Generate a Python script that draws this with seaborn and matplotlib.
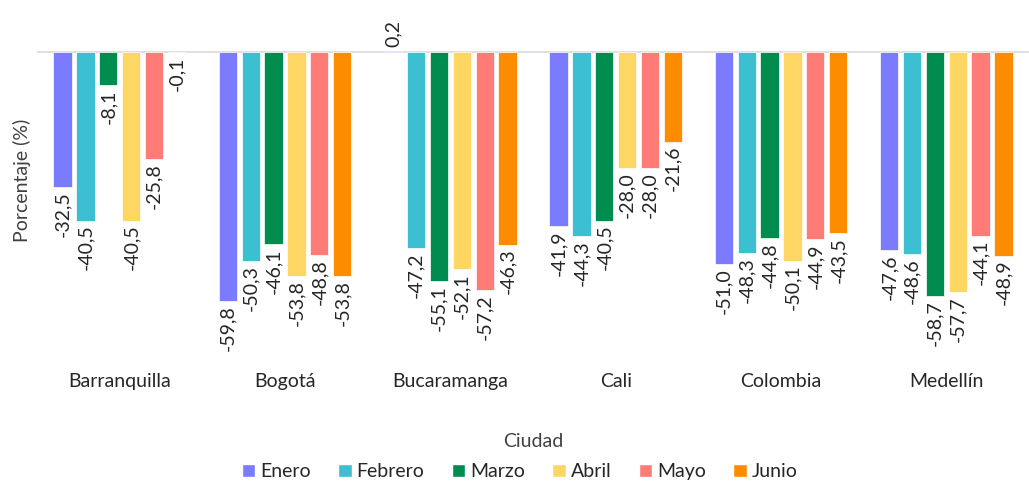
import pandas as pd
import matplotlib.pyplot as plt
import seaborn as sns
from matplotlib.patches import Patch

ciudades = ['Barranquilla', 'Bogotá', 'Bucaramanga', 'Cali', 'Colombia', 'Medellín']
meses = ['Enero', 'Febrero', 'Marzo', 'Abril', 'Mayo', 'Junio']
colores = ['#7b7bff', '#3cbfd0', '#008c4f', '#fdd663', '#fe7b76', '#fe8c00']

enero = [-32.5, -59.8, 0.2, -41.9, -51.0, -47.6]
febrero = [-40.5, -50.3, -47.2, -44.3, -48.3, -48.6]
marzo = [-8.1, -46.1, -55.1, -40.5, -44.8, -58.7]
abril = [-40.5, -53.8, -52.1, -28.0, -50.1, -57.7]
mayo = [-25.8, -48.8, -57.2, -28.0, -44.9, -44.1]
junio = [-0.1, -53.8, -46.3, -21.6, -43.5, -48.9]

series = [enero, febrero, marzo, abril, mayo, junio]
rows = []
for mes, vals in zip(meses, series):
    for c, v in zip(ciudades, vals):
        rows.append({'Ciudad': c, 'Mes': mes, 'Porcentaje': v})
df = pd.DataFrame(rows)

sns.set_style('white')
plt.rcParams['font.family'] = ['Lato', 'DejaVu Sans']

fig = plt.figure(figsize=(10.29, 4.88), dpi=100)
ax = fig.add_axes([0.036, 0.262, 0.964, 0.738])

sns.barplot(data=df, x='Ciudad', y='Porcentaje', hue='Mes', hue_order=meses,
            palette=colores, order=ciudades, width=0.83, gap=0.2, saturation=1,
            edgecolor='white', linewidth=0.5, legend=False, ax=ax, zorder=3)

ax.axhline(0, color='#d9d9d9', lw=1.2, zorder=2)

for cont in ax.containers:
    ax.bar_label(cont, labels=[f'{v:.1f}'.replace('.', ',') for v in cont.datavalues],
                 rotation=90, padding=3, fontsize=14, color='#262626')

ax.set_ylim(-74, 12.4)
ax.set_yticks([])
ax.tick_params(axis='x', length=0, pad=9, labelsize=14, labelcolor='#262626')
sns.despine(ax=ax, left=True, bottom=True)
ax.set_ylabel('Porcentaje (%)', fontsize=14, color='#404040', labelpad=4)
ax.set_xlabel('Ciudad', fontsize=14, color='#404040', labelpad=31)

handles = [Patch(facecolor=c, label=m) for c, m in zip(colores, meses)]
fig.legend(handles=handles, loc='lower center', bbox_to_anchor=(0.505, -0.02), ncol=6,
           frameon=False, fontsize=14, handlelength=0.7, handleheight=0.7,
           handletextpad=0.25, columnspacing=1.4)

fig.savefig('out.png', dpi=100)
